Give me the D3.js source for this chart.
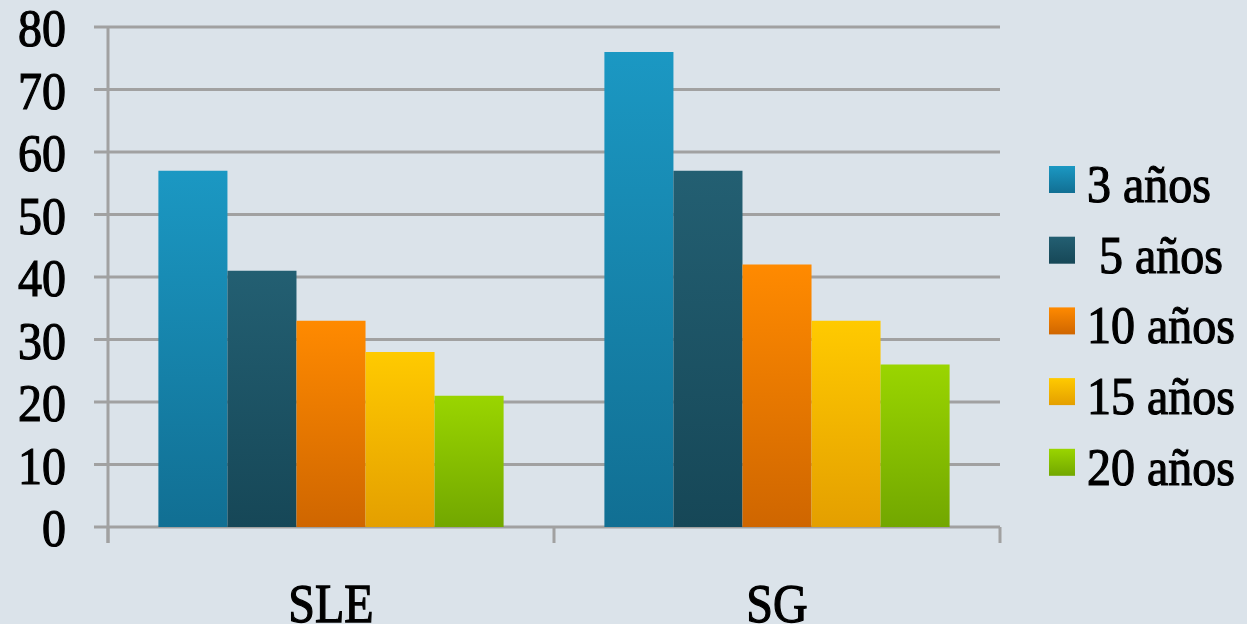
<!DOCTYPE html>
<html>
<head>
<meta charset="utf-8">
<script src="https://cdn.jsdelivr.net/npm/d3@7"></script>
<style>
  html, body { margin: 0; padding: 0; background: #dbe3ea; }
  svg { display: block; }
  text { font-family: "Liberation Serif", "DejaVu Serif", serif; fill: #000; stroke: #000; stroke-width: 1.1px; white-space: pre; }
</style>
</head>
<body>
<svg id="chart"></svg>
<script>
// data
const categories = ["SLE", "SG"];
const series = ["3 años", " 5 años", "10 años", "15 años", "20 años"];
const values = {
  "SLE": [57, 41, 33, 28, 21],
  "SG":  [76, 57, 42, 33, 26]
};
const yTicks = [0, 10, 20, 30, 40, 50, 60, 70, 80];
// gradient stops per series: top, bottom
const colorsTop = ["#1b98c3", "#235f72", "#ff8a00", "#ffca00", "#9ad500"];
const colorsBottom = ["#116f93", "#164757", "#cf6600", "#e49f00", "#72a700"];

const width = 1247, height = 624;
const plot = { left: 108, right: 1000, top: 27, bottom: 527 };

const svg = d3.select("#chart").attr("width", width).attr("height", height);

const defs = svg.append("defs");
series.forEach((s, i) => {
  const g = defs.append("linearGradient")
    .attr("id", "grad" + i)
    .attr("x1", 0).attr("y1", 0).attr("x2", 0).attr("y2", 1);
  g.append("stop").attr("offset", "0%").attr("stop-color", colorsTop[i]);
  g.append("stop").attr("offset", "100%").attr("stop-color", colorsBottom[i]);
});

const y = d3.scaleLinear().domain([0, 80]).range([plot.bottom, plot.top]);
const x0 = d3.scaleBand().domain(categories).range([plot.left, plot.right]);
const x1 = d3.scaleBand().domain(series).range([0, x0.bandwidth()])
  .paddingInner(0).paddingOuter(0.73);

// gridlines with small ticks left of the axis
svg.append("g").selectAll("line")
  .data(yTicks)
  .join("line")
  .attr("x1", plot.left - 14)
  .attr("x2", plot.right)
  .attr("y1", d => y(d))
  .attr("y2", d => y(d))
  .attr("stroke", "#a1a1a1")
  .attr("stroke-width", 3);

// y axis line
svg.append("line")
  .attr("x1", plot.left).attr("x2", plot.left)
  .attr("y1", plot.top).attr("y2", plot.bottom + 16)
  .attr("stroke", "#a1a1a1").attr("stroke-width", 3);

// category ticks
const catEdges = [plot.left].concat(categories.map(c => x0(c) + x0.bandwidth()));
svg.append("g").selectAll("line")
  .data(catEdges)
  .join("line")
  .attr("x1", d => d).attr("x2", d => d)
  .attr("y1", plot.bottom).attr("y2", plot.bottom + 16)
  .attr("stroke", "#a1a1a1").attr("stroke-width", 3);

// bars
const groups = svg.append("g").selectAll("g")
  .data(categories)
  .join("g")
  .attr("transform", c => `translate(${x0(c)},0)`);

groups.selectAll("rect")
  .data(c => values[c].map((v, i) => ({ key: series[i], value: v, i })))
  .join("rect")
  .attr("x", d => x1(d.key))
  .attr("width", x1.bandwidth())
  .attr("y", d => y(d.value))
  .attr("height", d => y(0) - y(d.value))
  .attr("fill", d => `url(#grad${d.i})`);

// y tick labels
svg.append("g").selectAll("text")
  .data(yTicks)
  .join("text")
  .attr("transform", d => `translate(66,${y(d) + 19}) scale(1,1.12)`)
  .attr("text-anchor", "end")
  .attr("font-size", 48)
  .text(d => d);

// category labels (cut at the bottom edge, as in the source)
svg.append("g").selectAll("text")
  .data(categories)
  .join("text")
  .attr("transform", c => `translate(${x0(c) + x0.bandwidth() / 2},622) scale(1,1.14)`)
  .attr("text-anchor", "middle")
  .attr("font-size", 48)
  .text(c => c);

// legend
const legend = svg.append("g").selectAll("g")
  .data(series)
  .join("g")
  .attr("transform", (d, i) => `translate(1049,${166 + i * 70.7})`);

legend.append("rect")
  .attr("width", 26).attr("height", 27)
  .attr("fill", (d, i) => `url(#grad${i})`);

legend.append("text")
  .attr("transform", "translate(38,36) scale(1,1.12)")
  .attr("font-size", 48)
  .text(d => d);
</script>
</body>
</html>
